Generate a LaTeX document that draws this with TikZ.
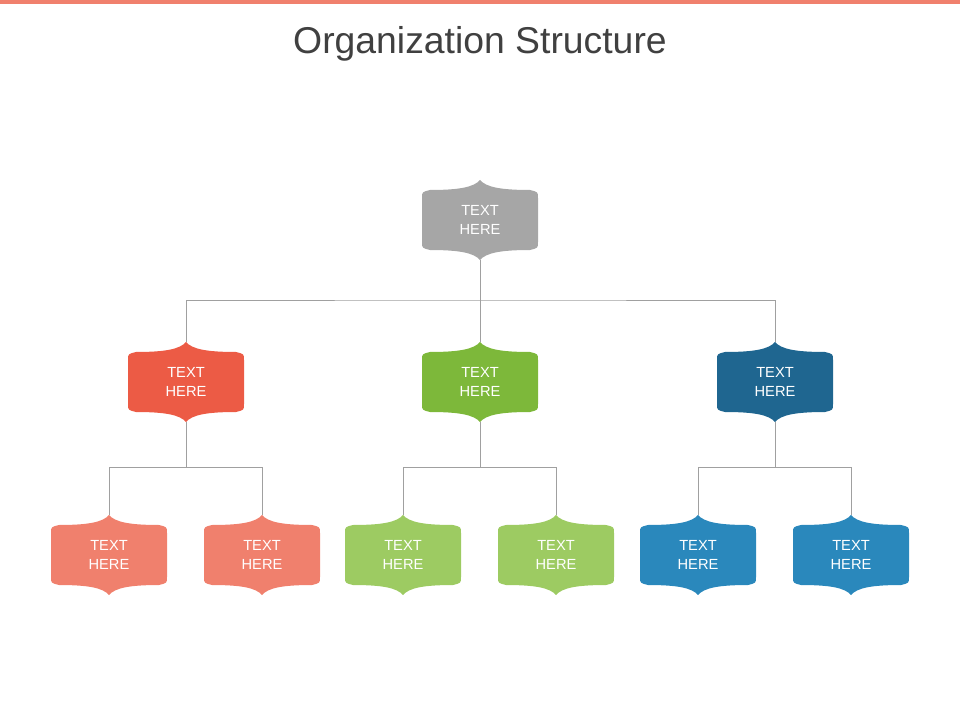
\documentclass[tikz,border=0pt]{standalone}
\usepackage{fontspec}
\setmainfont{Liberation Sans}
\definecolor{cgrey}{HTML}{A6A6A6}
\definecolor{cred}{HTML}{EC5B45}
\definecolor{cgreen}{HTML}{7DB83A}
\definecolor{cnavy}{HTML}{1F6690}
\definecolor{lred}{HTML}{F0806D}
\definecolor{lgreen}{HTML}{9DCB62}
\definecolor{lblue}{HTML}{2A88BC}
\definecolor{cline}{HTML}{A0A0A0}
\definecolor{ctitle}{HTML}{404040}
\newcommand\obox[4]{%
  \fill[#4] (#2-58,#3-22) .. controls (#2-58,#3-28) .. (#2-50,#3-30)
    .. controls (#2-20,#3-30) and (#2-6,#3-33) .. (#2,#3-40)
    .. controls (#2+6,#3-33) and (#2+20,#3-30) .. (#2+50,#3-30)
    .. controls (#2+58,#3-28) .. (#2+58,#3-22)
    -- (#2+58,#3+22) .. controls (#2+58,#3+28) .. (#2+50,#3+30)
    .. controls (#2+20,#3+30) and (#2+6,#3+33) .. (#2,#3+40)
    .. controls (#2-6,#3+33) and (#2-20,#3+30) .. (#2-50,#3+30)
    .. controls (#2-58,#3+28) .. (#2-58,#3+22) -- cycle;
  \node[boxtext] (#1) at (#2,#3) {TEXT\\HERE};}
\begin{document}
\begin{tikzpicture}[x=0.75pt,y=-0.75pt,
  boxtext/.style={text=white,font=\fontsize{11}{14}\selectfont,align=center,
    inner sep=0pt,minimum width=87pt,minimum height=60pt},
  conn/.style={draw=cline,line width=0.6pt}]
\useasboundingbox (0,0) rectangle (960,720);
\fill[lred] (0,0) rectangle (960,4);
\node[text=ctitle,font=\fontsize{28}{32}\selectfont] (title) at (480,44) {Organization Structure};
\obox{root}{480}{220}{cgrey}
\obox{m1}{186}{382}{cred}
\obox{m2}{480}{382}{cgreen}
\obox{m3}{775}{382}{cnavy}
\obox{b1}{109}{555}{lred}
\obox{b2}{262}{555}{lred}
\obox{b3}{403}{555}{lgreen}
\obox{b4}{556}{555}{lgreen}
\obox{b5}{698}{555}{lblue}
\obox{b6}{851}{555}{lblue}
\coordinate (j0) at (480,300);
\draw[conn] (root.south) -- (j0);
\draw[conn] (m1.north) |- (j0) -| (m3.north);
\draw[conn] (j0) -- (m2.north);
\foreach \m/\l/\r in {m1/b1/b2,m2/b3/b4,m3/b5/b6}{
  \coordinate (j\m) at ([yshift=-45*0.75pt]\m.south);
  \draw[conn] (\m.south) -- (j\m);
  \draw[conn] (\l.north) |- (j\m) -| (\r.north);
}
\end{tikzpicture}
\end{document}
